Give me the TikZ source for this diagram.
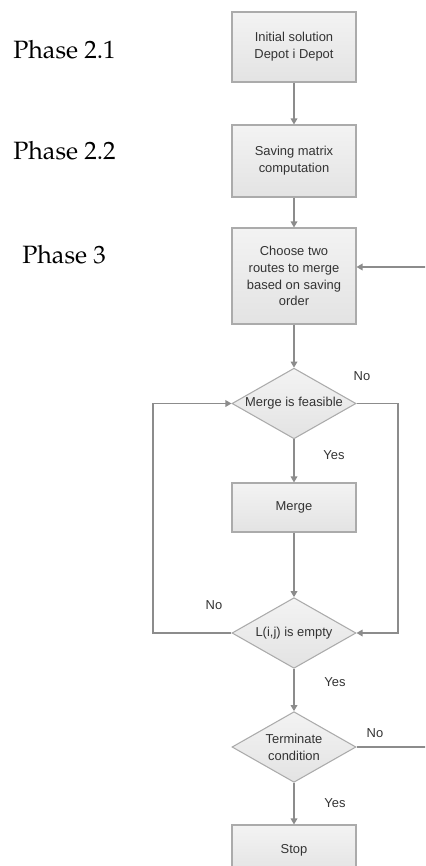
\documentclass[tikz,border=0pt]{standalone}
\usepackage{fontspec}
\setsansfont{Liberation Sans}
\usetikzlibrary{shapes.geometric,arrows.meta}
\definecolor{boxline}{HTML}{ABABAB}
\definecolor{boxtop}{HTML}{F3F3F3}
\definecolor{boxbot}{HTML}{E3E3E3}
\definecolor{conn}{HTML}{8C8C8C}
\definecolor{txt}{HTML}{333333}
\newcommand{\phasefont}{\fontencoding{T1}\fontfamily{ppl}\fontsize{18.8}{22}\selectfont}
\begin{document}
\begin{tikzpicture}[x=0.75pt,y=-0.75pt,
  proc/.style={draw=boxline, line width=0.8pt, top color=boxtop, bottom color=boxbot,
    minimum width=93pt, inner sep=0pt, align=center, text=txt,
    font=\sffamily\fontsize{9.7}{12.6}\selectfont},
  dec/.style={diamond, draw=boxline, line width=0.8pt, top color=boxtop, bottom color=boxbot,
    minimum width=93pt, minimum height=53pt, inner sep=0pt},
  dtext/.style={align=center, text=txt, font=\sffamily\fontsize{9.7}{12.6}\selectfont},
  lbl/.style={text=txt, font=\sffamily\fontsize{9.7}{12.6}\selectfont},
  phase/.style={anchor=base west, inner sep=0pt, text=black, font=\phasefont},
  arr/.style={draw=conn, line width=0.9pt, -{Triangle[width=5pt,length=4.5pt]}},
  ln/.style={draw=conn, line width=0.9pt}]
\useasboundingbox (0,0) rectangle (425,866);
\clip (0,0) rectangle (425,866);

% phase labels
\node[phase] (p21) at (13,59) {Phase 2.1};
\node[phase] (p22) at (13,160) {Phase 2.2};
\node[phase] (p3) at (22,263) {Phase 3};

% nodes
\node[proc, minimum height=52.5pt] (b1) at (294,47) {Initial solution\\Depot i Depot};
\node[proc, minimum height=54pt] (b2) at (294,161) {Saving matrix\\computation};
\node[proc, minimum height=72pt] (b3) at (294,276) {Choose two\\routes to merge\\based on saving\\order};
\node[dec] (d1) at (294,403.5) {};
\node[dtext] (t1) at (d1) {Merge is feasible};
\node[proc, minimum height=36.75pt] (m) at (294,507.5) {Merge};
\node[dec] (d2) at (294,633) {};
\node[dtext] (t2) at (d2) {L(i,j) is empty};
\node[dec] (d3) at (294,747) {};
\node[dtext] (t3) at (d3) {Terminate\\condition};
\node[proc, minimum height=37.5pt] (s) at (294,850) {Stop};

% helper coordinates
\coordinate (rr) at (398,0);
\coordinate (ll) at (153,0);
\coordinate (far) at (432,0);

% connectors
\draw[arr] (b1) -- (b2);
\draw[arr] (b2) -- (b3);
\draw[arr] (b3) -- (d1);
\draw[arr] (d1) -- (m);
\draw[arr] (m) -- (d2);
\draw[arr] (d2) -- (d3);
\draw[arr] (d3) -- (s);
\draw[arr] (d1.east) -- (d1.east -| rr) -- (d2.east -| rr) -- (d2.east);
\draw[arr] (d2.west) -- (d2.west -| ll) -- (d1.west -| ll) -- (d1.west);
\draw[arr] (d3.east) -- (d3.east -| far) -- ([yshift=6.75pt]b3.east -| far) -- ([yshift=6.75pt]b3.east);

% labels
\node[lbl] (n1) at (362,376) {No};
\node[lbl] (y1) at (334,455) {Yes};
\node[lbl] (n2) at (214,605) {No};
\node[lbl] (y2) at (335,682) {Yes};
\node[lbl] (n3) at (375,733) {No};
\node[lbl] (y3) at (335,803) {Yes};
\end{tikzpicture}
\end{document}
